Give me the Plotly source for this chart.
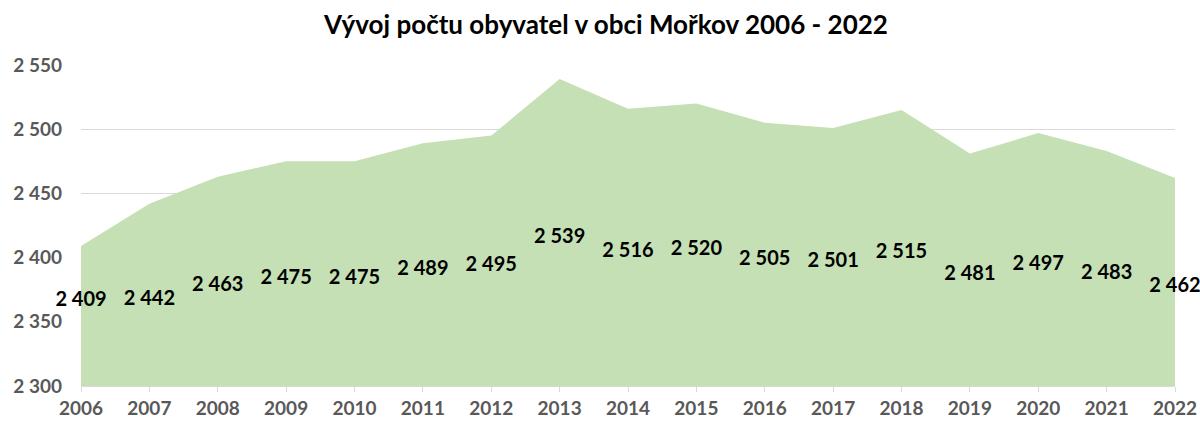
import plotly.graph_objects as go

years = [str(y) for y in range(2006, 2023)]
population = [2409, 2442, 2463, 2475, 2475, 2489, 2495, 2539, 2516, 2520,
              2505, 2501, 2515, 2481, 2497, 2483, 2462]
y_ticks = [2300, 2350, 2400, 2450, 2500, 2550]
title = "Vývoj počtu obyvatel v obci Mořkov 2006 - 2022"

BASE = 2300
FONT = "Lato, Carlito, Calibri, sans-serif"

fig = go.Figure()
fig.add_trace(go.Scatter(
    x=years, y=population, mode="lines", fill="tozeroy",
    fillcolor="#C5E0B4", line=dict(width=0, color="#C5E0B4"),
    hoverinfo="skip", showlegend=False,
))

# Excel-style labels: placed midway between the baseline and the value
label_y = [(BASE + v) / 2 - 4 for v in population]
label_y[0] = (BASE + population[1]) / 2 - 5
label_text = [f"{v:,}".replace(",", " ") for v in population]
fig.add_trace(go.Scatter(
    x=years, y=label_y, mode="text", text=label_text,
    textposition="middle center",
    textfont=dict(family=FONT, size=20, color="#000000", weight="bold"),
    cliponaxis=False, hoverinfo="skip", showlegend=False,
))

fig.update_layout(
    width=1200, height=423,
    margin=dict(l=81, r=25, t=65, b=37, autoexpand=False),
    paper_bgcolor="white", plot_bgcolor="white",
    separators=", ",
    title=dict(text=title, x=0.505, xanchor="center", y=0.94, yanchor="middle",
               yref="container",
               font=dict(family=FONT, size=26, color="#000000", weight="bold")),
    xaxis=dict(
        type="category", range=[0, len(years) - 1], automargin=False,
        showgrid=False, showline=True, linecolor="#D9D9D9", linewidth=1,
        ticks="outside", ticklen=5, tickcolor="#D9D9D9",
        tickfont=dict(family=FONT, size=19, color="#595959", weight="bold"),
    ),
    yaxis=dict(
        range=[2300, 2550], tickvals=y_ticks, tickformat=",d", automargin=False,
        showgrid=True, gridcolor="#D9D9D9", gridwidth=1,
        zeroline=False, showline=False, ticks="", ticklabelstandoff=18,
        tickfont=dict(family=FONT, size=19, color="#595959", weight="bold"),
    ),
)
fig.layout.xaxis.layer = "above traces"

fig.write_html(
    "out.html",
    config={"displayModeBar": False},
    post_script="document.body.style.margin='0';document.body.style.padding='0';",
)
